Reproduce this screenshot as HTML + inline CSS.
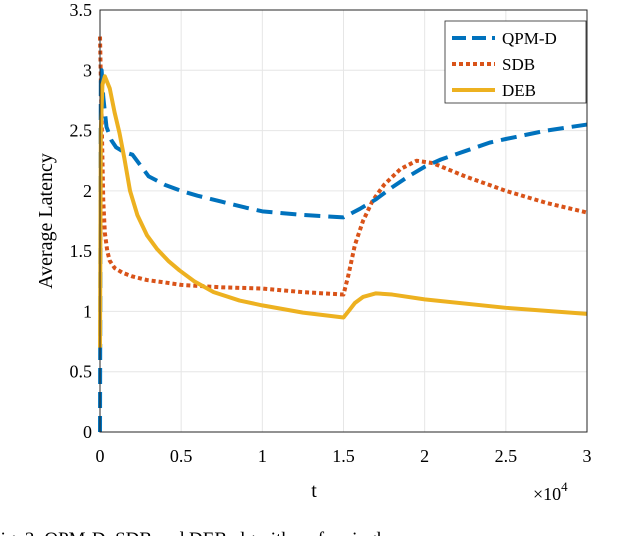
<!DOCTYPE html>
<html><head><meta charset="utf-8"><style>
body{margin:0;background:#fff;}
svg{display:block;font-family:"Liberation Serif",serif;}
</style></head><body>
<svg width="628" height="536">
<g id="grid"></g><g id="series"></g><g id="axes"></g>
<g>
<rect x="445" y="21" width="141" height="82" fill="#fff" stroke="#262626" stroke-width="0.8"/>
<line x1="452" y1="38" x2="495" y2="38" stroke="#0072BD" stroke-width="4" stroke-dasharray="14,6"/>
<text x="502" y="44" font-size="17">QPM-D</text>
<line x1="452" y1="64" x2="495" y2="64" stroke="#D95319" stroke-width="4" stroke-dasharray="4,3"/>
<text x="502" y="70" font-size="17">SDB</text>
<line x1="452" y1="90" x2="495" y2="90" stroke="#EDB120" stroke-width="4"/>
<text x="502" y="96" font-size="17">DEB</text>
</g>
<text x="314" y="497" font-size="20" text-anchor="middle">t</text>
<text x="533" y="500" font-size="18">×10<tspan font-size="13" dy="-9">4</tspan></text>
<text transform="translate(52,221) rotate(-90)" font-size="20" text-anchor="middle">Average Latency</text>
<text x="-10" y="545" font-size="19">Fig. 3: QPM-D, SDB and DEB algorithms for single ac</text>
</svg>
<script>
const xTicks=[0,0.5,1,1.5,2,2.5,3];
const yTicks=[0,0.5,1,1.5,2,2.5,3,3.5];
const qpmT=[0,0.05,0.1,0.2,0.4,0.7,1,1.5,2,3,4,5,6,7.5,9,10,12.5,15,16,17,18,19,20,21,22.5,24,25,27.5,30];
const qpmV=[0,2.9,3.0,2.78,2.53,2.42,2.36,2.32,2.3,2.12,2.05,2.0,1.96,1.91,1.86,1.83,1.8,1.78,1.85,1.93,2.03,2.12,2.2,2.26,2.33,2.4,2.43,2.5,2.55];
const sdbT=[0,0.1,0.2,0.3,0.45,0.6,0.9,1.4,2,2.9,4,5,7.5,10,12.5,15,15.3,15.7,16.2,16.8,17.5,18.5,19.5,20.5,22.5,25,27.5,30];
const sdbV=[3.28,2.6,1.92,1.65,1.5,1.42,1.36,1.32,1.29,1.26,1.24,1.22,1.2,1.19,1.16,1.14,1.3,1.55,1.75,1.92,2.05,2.18,2.25,2.23,2.12,2.0,1.9,1.82];
const debT=[0,0.05,0.15,0.3,0.6,0.9,1.2,1.5,1.85,2.3,2.9,3.5,4.2,4.9,5.8,7,8.6,10,12.5,15,15.3,15.7,16.2,17,18,20,25,30];
const debV=[0.7,2.5,2.88,2.95,2.85,2.65,2.48,2.27,2.0,1.8,1.63,1.52,1.42,1.34,1.25,1.16,1.09,1.05,0.99,0.95,1.0,1.07,1.12,1.15,1.14,1.1,1.03,0.98];
const X0=100,X1=587,Y0=432,Y1=10;
const xs=t=>X0+(t/30)*(X1-X0);
const ys=v=>Y0-(v/3.5)*(Y0-Y1);
const NS="http://www.w3.org/2000/svg";
function mk(tag,attrs,parent){const e=document.createElementNS(NS,tag);for(const k in attrs)e.setAttribute(k,attrs[k]);document.getElementById(parent).appendChild(e);return e;}
xTicks.forEach(t=>{
 const g=mk('line',{x1:xs(t*10),x2:xs(t*10),y1:Y1,y2:Y0,stroke:'#e6e6e6','stroke-width':1},'grid');
 
 
 const l=mk('text',{x:xs(t*10),y:Y0+30,'font-size':18,'text-anchor':'middle'},'axes');l.textContent=t;
 
 
});
yTicks.forEach(v=>{
 const g=mk('line',{x1:X0,x2:X1,y1:ys(v),y2:ys(v),stroke:'#e6e6e6','stroke-width':1},'grid');
 
 
 const l=mk('text',{x:X0-8,y:ys(v)+6,'font-size':18,'text-anchor':'end'},'axes');l.textContent=v;
 
 
});
const box=mk('rect',{x:X0,y:Y1,width:X1-X0,height:Y0-Y1,fill:'none',stroke:'#262626','stroke-width':1},'axes');


function series(T,V,color,dash,name){
 const p=mk('polyline',{points:T.map((t,i)=>xs(t)+','+ys(V[i])).join(' '),fill:'none',stroke:color,'stroke-width':4,'stroke-dasharray':dash,'stroke-linejoin':'round'},'series');
 
 
}
series(sdbT,sdbV,'#D95319','4,3','sdb-line');
series(qpmT,qpmV,'#0072BD','16,8','qpm-d-line');
series(debT,debV,'#EDB120','none','deb-line');
</script>
</body></html>
